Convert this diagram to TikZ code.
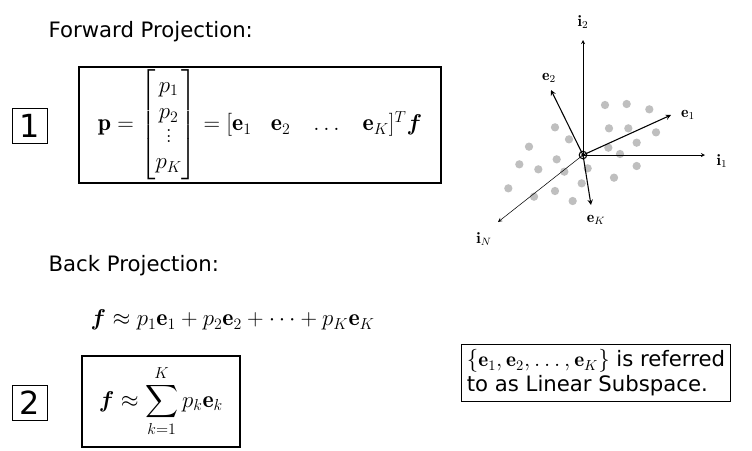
\documentclass[tikz,border=0pt]{standalone}
\usepackage{amsmath,bm}
\usepackage{fontspec}
\newfontfamily\labelfont{DejaVu Sans}
\usetikzlibrary{positioning}
\begin{document}
\begin{tikzpicture}
    [
        x=0.0265cm, y=-0.0265cm,
        heading/.style={anchor=west, font=\labelfont\fontsize{16}{19}\selectfont},
        mathtext/.style={font=\fontsize{18}{21}\selectfont},
        numbox/.style={rectangle, draw, thick, minimum width=0.95cm, minimum height=0.95cm, inner sep=0pt, font=\labelfont\fontsize{24}{26}\selectfont},
        vlabel/.style={font=\fontsize{12}{14}\selectfont},
        axis/.style={->, >=stealth, thin},
        basis/.style={->, >=stealth, thick},
        pt/.style={circle, fill=black!25, inner sep=0pt, minimum size=0.22cm}
    ]
    \useasboundingbox (0,0) rectangle (752,450);
    %headings
    \node[heading] (fwd_title)  at (44,32)  {Forward Projection:};
    \node[heading] (back_title) at (44,266) {Back Projection:};
    %forward projection
    \node[numbox] (num_one) at (30,126) {1};
    \draw[thick] (79,67) rectangle (441,183);
    \node[mathtext, inner sep=0pt] (fwd_eq) at (260,125)
        {$\mathbf{p}=\begin{bmatrix}p_1\\[-1pt] p_2\\[-4pt] \vdots\\[-1pt] p_K\end{bmatrix}=[\mathbf{e}_1\enspace\ \mathbf{e}_2\enspace\ \dots\enspace\ \mathbf{e}_K]^T\bm{f}$};
    %back projection
    \node[mathtext, anchor=west] (back_eq) at (86,320) {$\bm{f}\approx p_1\mathbf{e}_1+p_2\mathbf{e}_2+\cdots+p_K\mathbf{e}_K$};
    \node[numbox] (num_two) at (30,403) {2};
    \draw[thick] (82,356) rectangle (240,447);
    \node[mathtext, inner sep=0pt] (sum_eq) at (161,401) {$\displaystyle\bm{f}\approx\sum_{k=1}^{K}p_k\mathbf{e}_k$};
    \node[draw, thin, align=left, inner sep=4pt, font=\labelfont\fontsize{16}{19}\selectfont] (note) at (596,373)
        {$\{\mathbf{e}_1,\mathbf{e}_2,\dots,\mathbf{e}_K\}$ is referred\\to as Linear Subspace.};
    %subspace points
    \foreach \zx/\zy in {435/315,500/312,568/328,285/382,447/385,505/385,588/397,327/418,530/428,207/440,445/443,480/462,290/478,178/493,235/508,313/515,383/505,530/498,462/533,145/565,365/550,222/590,285/573,338/603}
        \node[pt] at ({460+\zx/3},{\zy/3}) {};
    %axes
    \coordinate (origin) at (583,155);
    \node[vlabel] (i_two) at (583,22) {$\mathbf{i}_2$};
    \node[vlabel] (i_one) at (722,161) {$\mathbf{i}_1$};
    \node[vlabel] (i_n)   at (484,239) {$\mathbf{i}_N$};
    \draw[axis] (origin) -- (583,40);
    \draw[axis] (origin) -- (705,155);
    \draw[axis] (origin) -- (498,222);
    %basis vectors
    \node[vlabel] (e_two) at (549,78)  {$\mathbf{e}_2$};
    \node[vlabel] (e_one) at (688,115) {$\mathbf{e}_1$};
    \node[vlabel] (e_k)   at (596,220) {$\mathbf{e}_K$};
    \draw[basis] (origin) -- (551,90);
    \draw[basis] (origin) -- (671,115);
    \draw[basis] (origin) -- (591,205);
    \draw[thick] (origin) circle (0.1cm);
    \fill (origin) circle (0.05cm);
\end{tikzpicture}
\end{document}
